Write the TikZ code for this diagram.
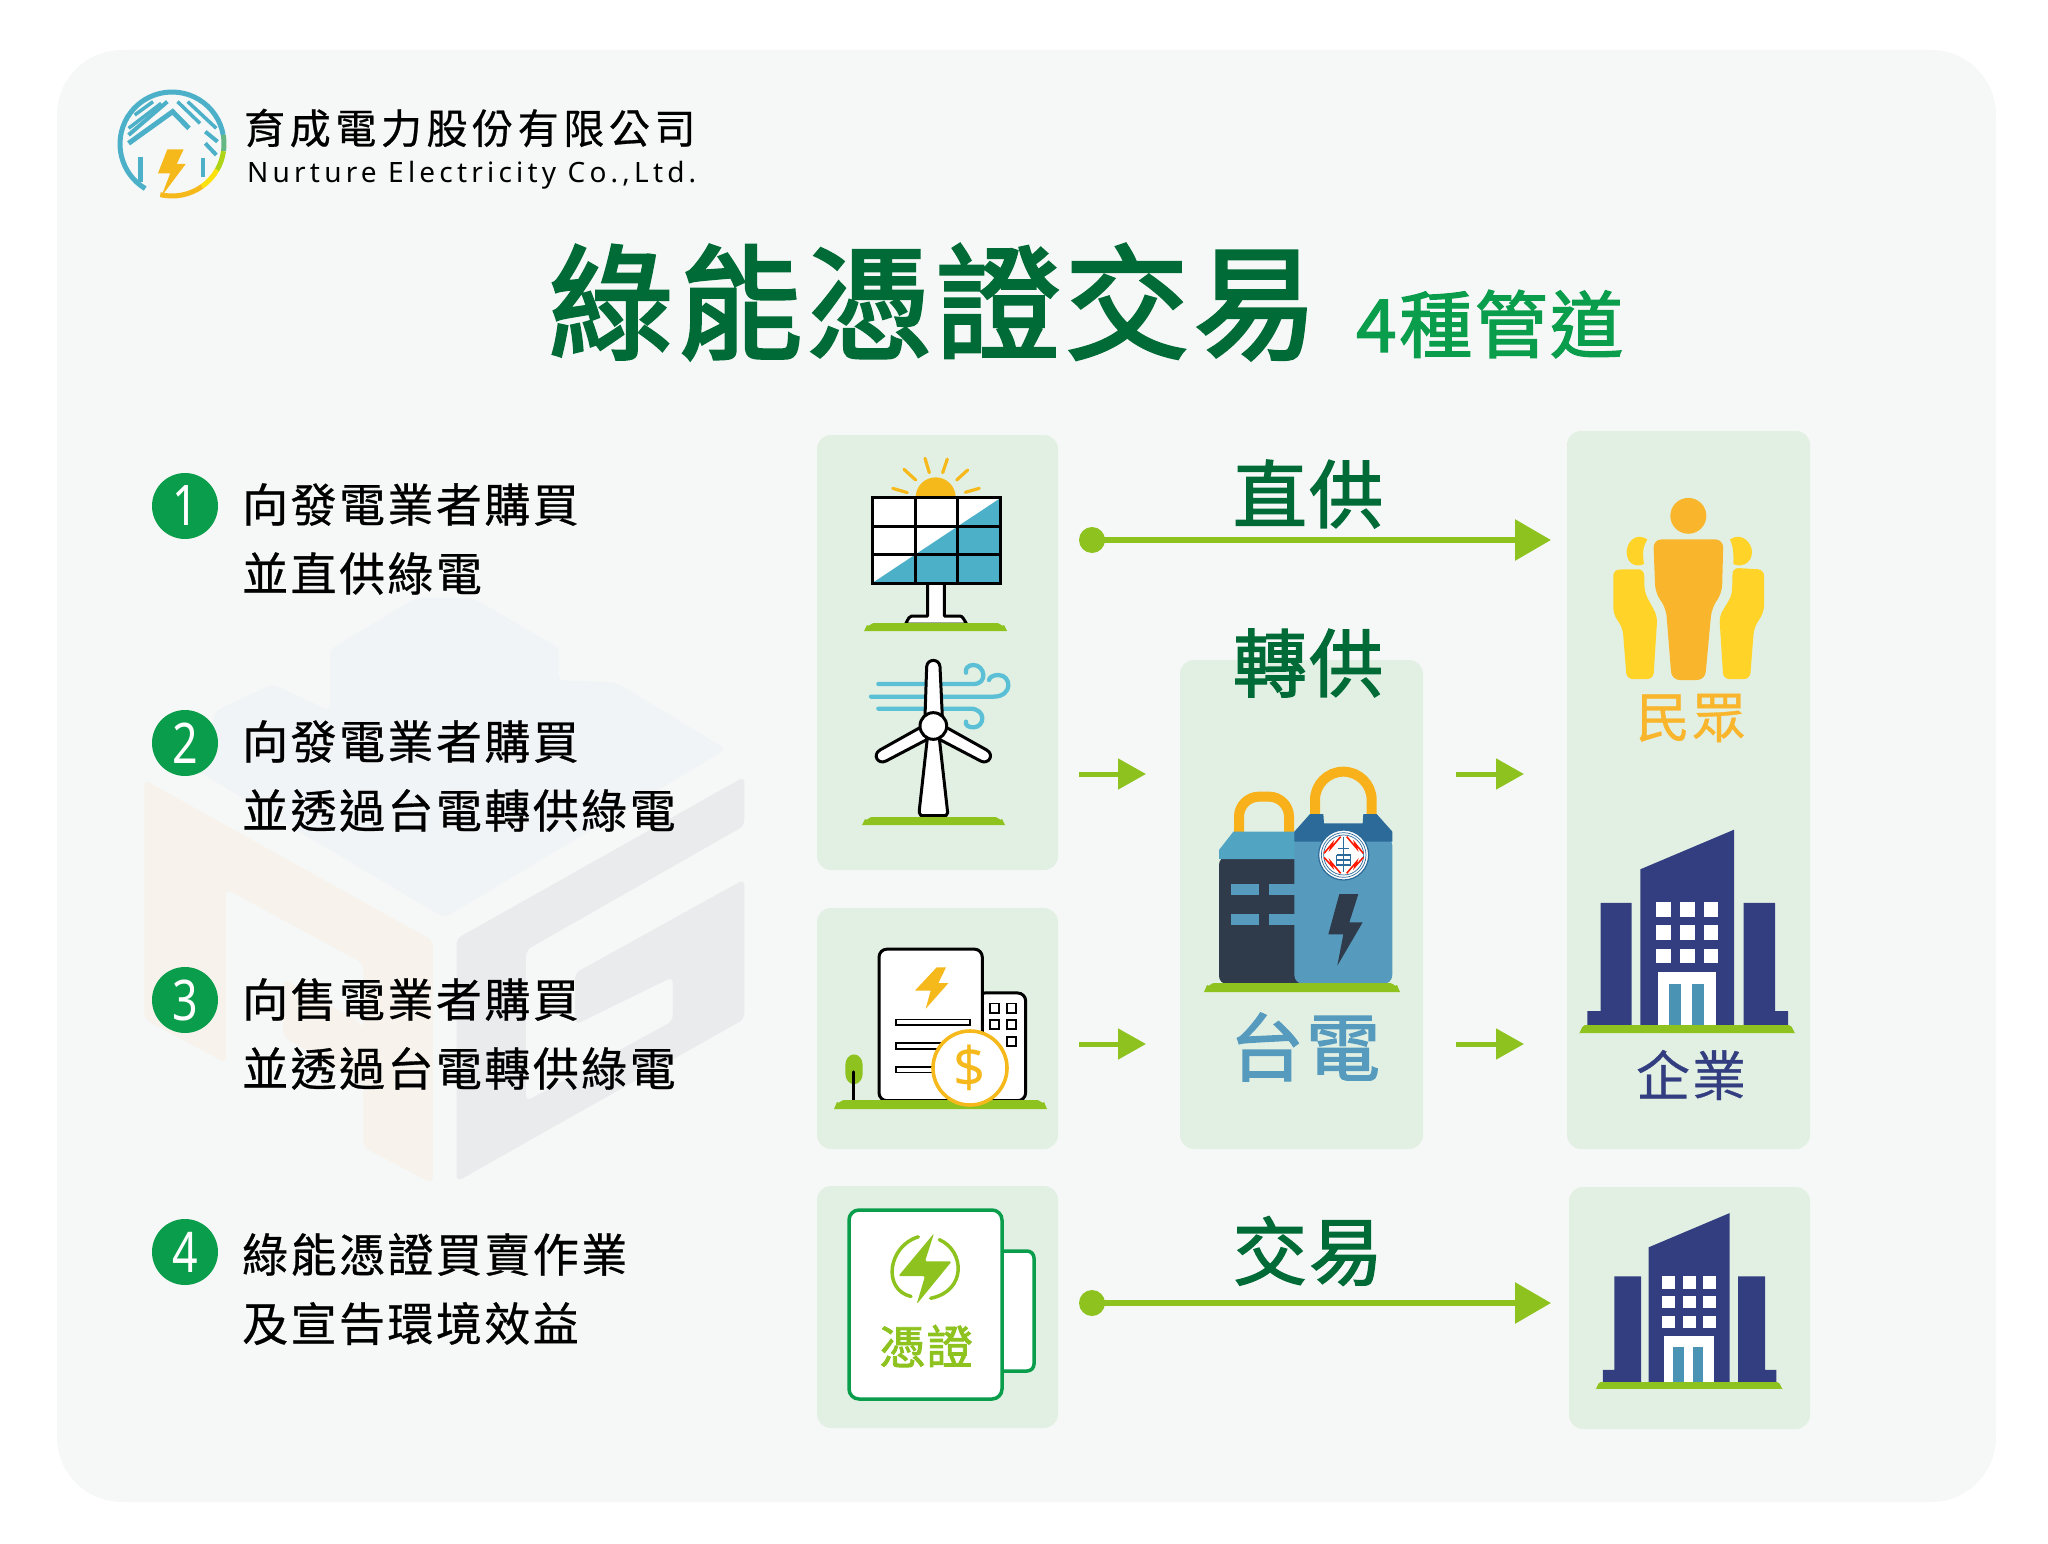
\documentclass[tikz,border=0pt]{standalone}
\usepackage{fontspec}
\usetikzlibrary{arrows.meta,calc}
\setmainfont{Noto Sans}
\newfontfamily\cjkr{Noto Sans CJK TC}
\newfontfamily\cjkm[FakeBold=0.6]{Noto Sans CJK TC}
\newfontfamily\cjkh[FakeBold=1.9]{Noto Sans CJK TC}
\newfontfamily\cjkt[FakeBold=2.6]{Noto Sans CJK TC}
\newfontfamily\latn{Noto Sans}
\definecolor{panelbg}{HTML}{F6F8F7}
\definecolor{boxbg}{HTML}{E2F0E3}
\definecolor{dkgreen}{HTML}{006B36}
\definecolor{midgreen}{HTML}{0A9E4C}
\definecolor{lime}{HTML}{8DC21F}
\definecolor{sun}{HTML}{F6B91C}
\definecolor{teal}{HTML}{4BB0C8}
\definecolor{wind}{HTML}{5BBFD6}
\definecolor{batblue}{HTML}{569BBE}
\definecolor{batdark}{HTML}{2B6A99}
\definecolor{slate}{HTML}{2F3A4A}
\definecolor{handle}{HTML}{F8B11B}
\definecolor{peopleor}{HTML}{F9B52B}
\definecolor{peopley}{HTML}{FFD327}
\definecolor{navy}{HTML}{333E80}
\definecolor{doorblue}{HTML}{4A93B5}
\definecolor{wmo}{HTML}{F7F3EC}
\definecolor{wmg}{HTML}{E9EBED}
\definecolor{wmb}{HTML}{F1F4F6}
\tikzset{
  x=1pt,y=-1pt,
  box/.style={fill=boxbg,draw=none,rounded corners=14pt},
  bullet/.style={circle,fill=midgreen,minimum size=66pt,inner sep=0pt,text=white,font=\latn\fontsize{56}{56}\selectfont},
  item/.style={anchor=west,inner sep=0pt,align=left,font=\cjkm\fontsize{46}{69}\selectfont\addfontfeature{LetterSpace=5.3}},
  flowlabel/.style={inner sep=0pt,text=dkgreen,font=\cjkh\fontsize{74}{74}\selectfont\addfontfeature{LetterSpace=3}},
  longarrow/.style={draw=lime,line width=6pt,-{Triangle[length=36pt,width=40pt]}},
  shortarrow/.style={draw=lime,line width=5pt,-{Triangle[length=28pt,width=30pt]}},
  startdot/.style={circle,fill=lime,minimum size=26pt,inner sep=0pt},
  ground/.style={fill=lime,draw=none},
  ink/.style={draw=black,line width=3pt,fill=white,line join=round},
}
\newcommand{\groundbar}[4]{\fill[ground] (#1,#4) -- (#1+3,#3+2) to[out=-60,in=180] (#1+10,#3) -- (#2-10,#3) to[out=0,in=-120] (#2-3,#3+2) -- (#2,#4) -- cycle;}
\newcommand{\officeblock}{%
  \fill[navy] (-46.7,-155.7) -- (47,-195.3) -- (47,0) -- (-46.7,0) -- cycle;
  \fill[navy] (-99.7,0) -- (-99.7,-14) -- (-86.3,-14) -- (-86.3,-122.2) -- (-55.3,-122.2) -- (-55.3,0) -- cycle;
  \fill[navy] (101,0) -- (101,-14) -- (88,-14) -- (88,-122.2) -- (56.7,-122.2) -- (56.7,0) -- cycle;
  \foreach \wx/\wy in {-30.7/-122.6,-7/-122.6,16.7/-122.6,-30.7/-100,-7/-100,16.7/-100,-30.7/-76.4,-7/-76.4,16.7/-76.4}
    {\fill[white] (\wx,\wy) rectangle ++(14.7,14.5);}
  \fill[white] (-29,-52.8) rectangle (29.3,0);
  \fill[doorblue] (-18.3,-41) rectangle (-6.3,0);
  \fill[doorblue] (5,-41) rectangle (16.7,0);
  \fill[lime] (-108.3,8) to[out=-80,in=180] (-102,0) -- (102,0) to[out=0,in=-100] (108.7,8) -- cycle;
}
\begin{document}
\begin{tikzpicture}
\useasboundingbox (0,0) rectangle (2048,1544);
\fill[white] (0,0) rectangle (2048,1544);
\fill[panelbg,rounded corners=65pt] (57,50) rectangle (1996,1502);

% watermark
\begin{scope}[shift={(130,600)},x=0.40816pt,y=-0.38270pt]
\fill[wmb,rounded corners=6pt] (490,130) -- (700,-5) -- (840,-5) -- (1050,125) -- (1050,210) -- (1190,215) -- (1460,390) -- (770,830) -- (170,450) -- (210,290) -- (350,220) -- (490,290) -- cycle;
\fill[wmo,rounded corners=6pt] (35,470) -- (742,890) -- (742,1525) -- (572,1430) -- (572,950) -- (235,755) -- (235,1210) -- (35,1095) -- cycle;
\fill[wmo,rounded corners=6pt] (375,990) -- (572,1110) -- (572,1270) -- (375,1140) -- cycle;
\fill[wmg,rounded corners=6pt] (800,885) -- (1505,462) -- (1505,590) -- (970,915) -- (970,1310) -- (1330,1100) -- (1330,985) -- (1090,1110) -- (1090,975) -- (1505,730) -- (1505,1095) -- (800,1520) -- cycle;
\end{scope}

% company logo
\begin{scope}[line width=5pt]
\draw[color=teal] (172,144) ++(-239:52) arc[start angle=-239,end angle=-10,radius=52];
\draw[color=teal!60!lime] (172,144) ++(-10:52) arc[start angle=-10,end angle=8,radius=52];
\draw[color=lime!70!yellow] (172,144) ++(8:52) arc[start angle=8,end angle=30,radius=52];
\draw[color=yellow!70!sun] (172,144) ++(30:52) arc[start angle=30,end angle=55,radius=52];
\draw[color=sun] (172,144) ++(55:52) arc[start angle=55,end angle=103,radius=52];
\end{scope}
\begin{scope}[shift={(100,60)},x=0.40816pt,y=-0.33333pt]
\draw[teal,line width=5pt] (70,250) -- (178,155) -- (218,205);
\draw[teal,line width=3.5pt] (70,205) -- (150,130);
\draw[teal,line width=3.5pt] (85,165) -- (130,125);
\draw[teal,line width=4pt] (70,225) -- (165,125);
\draw[teal,line width=3.5pt] (190,125) -- (245,190);
\draw[teal,line width=3.5pt] (215,125) -- (285,205);
\draw[teal,line width=4pt] (258,215) -- (288,245);
\draw[teal,line width=4pt] (258,250) -- (285,285);
\draw[teal,line width=5pt] (100,290) -- (100,365);
\draw[teal,line width=4pt] (252,295) -- (252,350);
\fill[sun] (165,268) -- (205,268) -- (188,312) -- (210,312) -- (150,410) -- (172,340) -- (142,340) -- cycle;
\end{scope}
\node[anchor=west,inner sep=0pt] (coname) at (244,128) {\cjkm\fontsize{41}{41}\selectfont\addfontfeature{LetterSpace=11.2}育成電力股份有限公司};
\node[anchor=west,inner sep=0pt] (coeng) at (247,175) {\latn\fontsize{28}{28}\selectfont\addfontfeature{LetterSpace=15}Nurture Electricity Co.,Ltd.};

% title
\node[anchor=west,inner sep=0pt,text=dkgreen] (title) at (549,302) {\cjkt\fontsize{124}{124}\selectfont\addfontfeature{LetterSpace=4}綠能憑證交易};
\node[anchor=west,inner sep=0pt,text=midgreen] (subtitle) at (1356,324) {\cjkh\fontsize{73}{73}\selectfont\addfontfeature{LetterSpace=3.4}4種管道};

% list
\node[bullet] (n1) at (185,506) {\scalebox{.8}[1]{1}};
\node[item] (t1) at (242,539) {向發電業者購買\\並直供綠電};
\node[bullet] (n2) at (185,743) {\scalebox{.8}[1]{2}};
\node[item] (t2) at (242,776) {向發電業者購買\\並透過台電轉供綠電};
\node[bullet] (n3) at (185,1000) {\scalebox{.8}[1]{3}};
\node[item] (t3) at (242,1034) {向售電業者購買\\並透過台電轉供綠電};
\node[bullet] (n4) at (185,1252) {\scalebox{.8}[1]{4}};
\node[item] (t4) at (242,1289) {綠能憑證買賣作業\\及宣告環境效益};

% boxes
\fill[box] (817,435) rectangle (1058,870);
\fill[box] (1180,660) rectangle (1423,1149);
\fill[box] (1567,431) rectangle (1810,1149);
\fill[box] (817,908) rectangle (1058,1149);
\fill[box] (817,1186) rectangle (1058,1428);
\fill[box] (1569,1187) rectangle (1810,1429);

% solar
\begin{scope}[shift={(810,420)},x=0.33333pt,y=-0.33333pt]
\fill[sun] (317,232) arc[start angle=180,end angle=360,radius=60] -- cycle;
\foreach \ax/\ay/\bx/\by in {248/205/292/218,282/148/317/180,345/115/358/158,412/117/398/158,473/150/440/180,508/205/466/217}
  {\draw[sun,line width=3.2pt,line cap=round] (\ax,\ay) -- (\bx,\by);}
\draw[ink] (285,612) to[out=-90,in=180] (305,588) -- (353,588) -- (353,490) -- (403,490) -- (403,588) -- (450,588) to[out=0,in=-90] (472,612) -- cycle;
\fill[white] (187,232) rectangle (572,490);
\fill[teal] (190,487) -- (570,235) -- (570,487) -- cycle;
\draw[black,line width=3pt] (187,232) rectangle (572,490);
\draw[black,line width=3pt] (316,232) -- (316,490) (443,232) -- (443,490) (187,318) -- (572,318) (187,403) -- (572,403);
\end{scope}
\groundbar{864}{1007}{623}{631}

% wind turbine
\begin{scope}[shift={(810,420)},x=0.33333pt,y=-0.33333pt]
\begin{scope}[draw=wind,line width=4.3pt,line cap=round]
\draw (205,792) -- (490,792) .. controls (535,792) and (525,735) .. (490,735) .. controls (475,735) and (465,745) .. (468,758);
\draw (183,830) -- (550,830) .. controls (610,830) and (605,765) .. (565,765) .. controls (550,765) and (538,772) .. (537,780);
\draw (205,866) -- (480,866) .. controls (530,866) and (525,922) .. (490,922) .. controls (475,922) and (465,915) .. (468,905);
\end{scope}
\draw[ink] (352,955) -- (328,1170) -- (328,1178) -- (333,1187) -- (408,1187) -- (413,1178) -- (388,955) -- cycle;
\draw[ink] (345,890) -- (350,740) .. controls (352,715) and (388,715) .. (390,740) -- (397,890) -- cycle;
\draw[ink] (335,920) -- (210,990) .. controls (185,1005) and (205,1035) .. (228,1023) -- (352,958) -- cycle;
\draw[ink] (405,920) -- (530,990) .. controls (555,1005) and (535,1035) .. (512,1023) -- (388,958) -- cycle;
\draw[ink] (370,918) circle (40);
\end{scope}
\groundbar{862}{1005}{817}{825}

% document and building
\begin{scope}[shift={(810,900)},x=0.33333pt,y=-0.35088pt]
\fill[lime] (106,470) arc[start angle=180,end angle=360,x radius=26,y radius=30] -- (158,495) arc[start angle=0,end angle=180,x radius=26,y radius=30] -- cycle;
\draw[ink,rounded corners=8pt] (500,265) -- (647,265) -- (647,572) -- (500,572) -- cycle;
\foreach \wx/\wy in {540/295,590/295,540/342,590/342,590/390}
  {\draw[black,line width=1.8pt,fill=white] (\wx,\wy) rectangle ++(28,26);}
\draw[ink,rounded corners=8pt] (207,140) rectangle (517,572);
\fill[sun] (380,192) -- (408,192) -- (385,237) -- (415,237) -- (347,310) -- (362,258) -- (315,258) -- cycle;
\foreach \ly in {340,408,476} {\draw[black,line width=1.5pt,fill=white] (258,\ly) rectangle (480,\ly+16);}
\draw[black,line width=3pt,line cap=round] (131,490) -- (131,578);
\end{scope}
\groundbar{834}{1047}{1100}{1109}
\node[circle,fill=white,draw=sun,line width=3.6pt,minimum size=74pt,inner sep=0pt,text=sun] (coin) at (970,1068) {\latn\fontsize{56}{56}\selectfont\$};

% certificate card
\draw[midgreen,line width=3.5pt,fill=white,rounded corners=7pt] (990,1251) rectangle (1034,1371);
\draw[midgreen,line width=3.5pt,fill=white,rounded corners=10pt] (849,1210) rectangle (1002,1399);
\begin{scope}[shift={(810,900)},x=0.33333pt,y=-0.35088pt]
\fill[lime,rounded corners=1.5pt] (372,950) -- (345,1030) -- (425,1030) -- (320,1152) -- (345,1072) -- (265,1072) -- cycle;
\draw[lime,line width=3.5pt,line cap=round] (325,960) .. controls (235,985) and (215,1110) .. (303,1130);
\draw[lime,line width=3.5pt,line cap=round] (388,968) .. controls (465,1000) and (470,1115) .. (362,1135);
\end{scope}
\node[inner sep=0pt,text=lime] (certlabel) at (926,1346) {\cjkh\fontsize{46}{46}\selectfont\addfontfeature{LetterSpace=3}憑證};

% battery / Taipower
\begin{scope}[shift={(1180,660)},x=0.33333pt,y=-0.33333pt]
\draw[handle,line width=10pt] (177,520) -- (177,470) arc[start angle=180,end angle=270,radius=60] -- (267,410) arc[start angle=270,end angle=360,radius=60] -- (327,520);
\draw[handle,line width=10pt] (405,470) -- (405,420) arc[start angle=180,end angle=270,radius=85] arc[start angle=270,end angle=360,radius=85] -- (575,470);
\fill[slate,rounded corners=8pt] (117,590) -- (117,972) -- (370,972) -- (370,590) -- cycle;
\fill[teal!50!batblue] (117,597) -- (117,570) -- (160,515) -- (350,515) -- (350,597) -- cycle;
\foreach \sy in {673,762} {\fill[batblue] (152,\sy) rectangle (238,\sy+32); \fill[batblue] (266,\sy) rectangle (350,\sy+32);}
\fill[batblue,rounded corners=9pt] (343,530) -- (637,530) -- (637,972) -- (343,972) -- cycle;
\fill[batdark] (343,545) -- (343,515) -- (390,462) -- (430,462) -- (432,490) -- (548,490) -- (550,462) -- (590,462) -- (637,515) -- (637,545) -- cycle;
\fill[slate] (478,702) -- (535,702) -- (508,787) -- (548,787) -- (472,917) -- (490,823) -- (445,823) -- cycle;
\draw[batdark,line width=1.2pt,fill=white] (491,585) circle (75);
\draw[batdark,line width=.7pt] (491,585) circle (67);
\draw[batdark,line width=.7pt] (491,585) circle (60);
\draw[red!80!orange,line width=1.6pt] (500,530) -- (530,565) -- (525,550) -- (550,580);
\draw[red!80!orange,line width=1.6pt] (482,530) -- (452,565) -- (457,550) -- (432,580);
\draw[red!80!orange,line width=1.6pt] (500,640) -- (530,605) -- (525,620) -- (550,592);
\draw[red!80!orange,line width=1.6pt] (482,640) -- (452,605) -- (457,620) -- (432,592);
\draw[batdark,line width=1.4pt] (491,530) -- (491,635) (475,565) -- (507,565) (470,585) -- (512,585) (470,585) -- (470,615) -- (512,615) -- (512,585) (470,600) -- (512,600);
\end{scope}
\groundbar{1204}{1400}{983}{992}
\node[inner sep=0pt,text=batblue] (tp) at (1305,1047) {\cjkh\fontsize{74}{74}\selectfont\addfontfeature{LetterSpace=3}台電};

% people
\begin{scope}[shift={(1570,430)},x=0.33333pt,y=-0.47170pt]
\fill[peopleor] (355,182) ellipse (54 and 38);
\fill[peopleor,rounded corners=8pt] (250,232) -- (460,232) -- (456,345) -- (425,378) -- (405,530) -- (305,530) -- (288,378) -- (256,345) -- cycle;
\fill[peopley,rounded corners=6pt] (130,296) -- (222,295) -- (224,345) -- (262,395) -- (250,528) -- (170,528) -- (158,420) -- (130,390) -- cycle;
\fill[peopley,rounded corners=6pt] (582,296) -- (488,292) -- (486,350) -- (448,395) -- (460,528) -- (540,528) -- (552,420) -- (582,385) -- cycle;
\fill[peopley] (232,232) .. controls (195,215) and (170,240) .. (170,258) .. controls (170,285) and (200,292) .. (222,284) .. controls (216,260) and (220,245) .. (232,232) -- cycle;
\fill[peopley] (480,232) .. controls (515,215) and (546,240) .. (546,258) .. controls (546,285) and (510,292) .. (490,284) .. controls (492,260) and (488,245) .. (480,232) -- cycle;
\end{scope}
\node[inner sep=0pt,text=peopleor] (minzhong) at (1691,718) {\cjkm\fontsize{54}{54}\selectfont\addfontfeature{LetterSpace=4}民眾};

% buildings
\begin{scope}[shift={(1687,1025)}]
\officeblock
\end{scope}
\node[inner sep=0pt,text=navy] (qiye) at (1691,1075) {\cjkm\fontsize{54}{54}\selectfont\addfontfeature{LetterSpace=4}企業};
\begin{scope}[shift={(1689,1382)},scale=.865]
\officeblock
\end{scope}

% flow labels
\node[flowlabel] (l1) at (1308,494) {直供};
\node[flowlabel] (l2) at (1308,663) {轉供};
\node[flowlabel] (l4) at (1308,1251) {交易};

% connectors
\node[startdot] (d1) at (1092,540) {};
\coordinate (e1) at (1551,540);
\draw[longarrow] (d1.center) -- (e1);
\node[startdot] (d4) at (1092,1303) {};
\coordinate (e4) at (1551,1303);
\draw[longarrow] (d4.center) -- (e4);
\coordinate (a1) at (1079,774); \coordinate (a2) at (1146,774);
\coordinate (b1) at (1079,1044); \coordinate (b2) at (1146,1044);
\coordinate (c1) at (1456,774); \coordinate (c2) at (1524,774);
\coordinate (f1) at (1456,1044); \coordinate (f2) at (1524,1044);
\draw[shortarrow] (a1) -- (a2);
\draw[shortarrow] (b1) -- (b2);
\draw[shortarrow] (c1) -- (c2);
\draw[shortarrow] (f1) -- (f2);
\end{tikzpicture}
\end{document}
